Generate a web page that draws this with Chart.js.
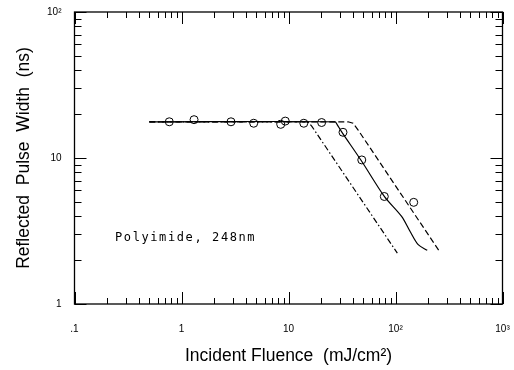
<!DOCTYPE html>
<html>
<head>
<meta charset="utf-8">
<script src="https://cdn.jsdelivr.net/npm/chart.js@4"></script>
<style>
  html, body { margin: 0; padding: 0; background: #fff; }
</style>
</head>
<body>
<canvas id="c" width="514" height="370"></canvas>
<script>
// measured pulse widths (circles)
const measFluence = [0.769, 1.31, 2.90, 4.73, 8.46, 9.33, 13.9, 20.4, 32.3, 48.4, 78.6, 148];
const measWidth   = [17.7, 18.3, 17.7, 17.3, 17.0, 17.9, 17.3, 17.5, 15.0, 9.7, 5.45, 4.97];

// model curves
const solidFluence = [0.5, 27.2, 28.4, 31.4, 48.3, 78.6, 114, 137, 163, 198];
const solidWidth   = [17.7, 17.7, 17.0, 15.1, 9.5, 5.46, 3.98, 3.14, 2.55, 2.33];
const dashFluence  = [0.5, 36.0, 40.1, 44.6, 261];
const dashWidth    = [17.7, 17.7, 17.3, 15.6, 2.26];
const dotDashFluence = [0.5, 15.2, 16.6, 104];
const dotDashWidth   = [17.7, 17.7, 16.4, 2.23];

// axis decades and their labels
const xDecades = [0.1, 1, 10, 100, 1000];
const xDecadeLabels = ['.1', '1', '10', '10²', '10³'];
const yDecades = [1, 10, 100];
const yDecadeLabels = ['1', '10', '10²'];

const noteText = 'Polyimide, 248nm';

const pts = (xs, ys) => xs.map((x, i) => ({ x: x, y: ys[i] }));

// decades plus 2..9 in between, inside the range
function logTicks(decades) {
    const out = [];
    decades.forEach((d, i) => {
        out.push({ value: d });
        if (i < decades.length - 1) {
            for (let k = 2; k <= 9; k++) out.push({ value: d * k });
        }
    });
    return out;
}

function labelFor(decades, labels) {
    return function (value) {
        const i = decades.findIndex(d => Math.abs(d - value) / d < 1e-6);
        return i >= 0 ? labels[i] : '';
    };
}

const isDecade = v => Math.abs(Math.log10(v) - Math.round(Math.log10(v))) < 1e-6;

// keep label overhang from pushing the plot box around
function noEdgePadding(s) {
    s.paddingLeft = 0; s.paddingRight = 0;
    s.paddingTop = 0; s.paddingBottom = 0;
}

// box, inward ticks on all four sides, and the note
const frameTicks = {
    id: 'frameTicks',
    afterDatasetsDraw(chart) {
        const { ctx, chartArea: a, scales: { x, y } } = chart;
        ctx.save();
        ctx.strokeStyle = '#000';
        ctx.lineWidth = 1.3;
        ctx.strokeRect(a.left, a.top, a.right - a.left, a.bottom - a.top);
        ctx.lineWidth = 1;
        ctx.beginPath();
        x.ticks.forEach(t => {
            const px = Math.round(x.getPixelForValue(t.value)) + 0.5;
            const len = isDecade(t.value) ? 12 : 6;
            ctx.moveTo(px, a.bottom); ctx.lineTo(px, a.bottom - len);
            ctx.moveTo(px, a.top); ctx.lineTo(px, a.top + len);
        });
        y.ticks.forEach(t => {
            const py = Math.round(y.getPixelForValue(t.value)) + 0.5;
            const len = isDecade(t.value) ? 12 : 7;
            ctx.moveTo(a.left, py); ctx.lineTo(a.left + len, py);
            ctx.moveTo(a.right, py); ctx.lineTo(a.right - len, py);
        });
        ctx.stroke();

        ctx.fillStyle = '#000';
        ctx.font = '12px "DejaVu Sans Mono"';
        ctx.letterSpacing = '1.6px';
        ctx.textBaseline = 'middle';
        ctx.fillText(noteText, x.getPixelForValue(0.239), y.getPixelForValue(2.83));
        ctx.restore();
    }
};

new Chart(document.getElementById('c'), {
    type: 'scatter',
    data: {
        datasets: [
            {
                data: pts(measFluence, measWidth),
                pointStyle: 'circle',
                pointRadius: 4,
                pointBorderWidth: 1,
                pointBorderColor: '#000',
                pointBackgroundColor: 'rgba(0,0,0,0)',
                showLine: false
            },
            {
                data: pts(solidFluence, solidWidth),
                showLine: true,
                borderColor: '#000',
                borderWidth: 1.2,
                pointRadius: 0,
                tension: 0.3
            },
            {
                data: pts(dashFluence, dashWidth),
                showLine: true,
                borderColor: '#000',
                borderWidth: 1.2,
                borderDash: [6, 3],
                pointRadius: 0,
                tension: 0
            },
            {
                data: pts(dotDashFluence, dotDashWidth),
                showLine: true,
                borderColor: '#000',
                borderWidth: 1.2,
                borderDash: [6, 2.5, 1.5, 2.5],
                pointRadius: 0,
                tension: 0
            }
        ]
    },
    options: {
        responsive: false,
        animation: false,
        layout: { padding: { top: 12, right: 11.5, left: 0, bottom: 0 } },
        plugins: { legend: { display: false }, tooltip: { enabled: false } },
        scales: {
            x: {
                type: 'logarithmic',
                min: 0.1,
                max: 1000,
                afterBuildTicks: s => { s.ticks = logTicks(xDecades); },
                afterFit: s => { s.height = 66; noEdgePadding(s); },
                grid: { display: false, drawTicks: false },
                border: { display: false },
                ticks: {
                    autoSkip: false,
                    maxRotation: 0,
                    padding: 19,
                    color: '#000',
                    font: { family: 'Liberation Sans', size: 10 },
                    callback: labelFor(xDecades, xDecadeLabels)
                },
                title: {
                    display: true,
                    text: 'Incident Fluence  (mJ/cm²)',
                    color: '#000',
                    font: { family: 'Liberation Sans', size: 17.5 },
                    padding: { top: 0, bottom: 3 }
                }
            },
            y: {
                type: 'logarithmic',
                min: 1,
                max: 100,
                afterBuildTicks: s => { s.ticks = logTicks(yDecades); },
                afterFit: s => { s.width = 74.5; noEdgePadding(s); },
                grid: { display: false, drawTicks: false },
                border: { display: false },
                ticks: {
                    autoSkip: false,
                    padding: 13,
                    color: '#000',
                    font: { family: 'Liberation Sans', size: 10 },
                    callback: labelFor(yDecades, yDecadeLabels)
                },
                title: {
                    display: true,
                    text: 'Reflected  Pulse  Width  (ns)',
                    color: '#000',
                    font: { family: 'Liberation Sans', size: 17.5 },
                    padding: { top: 14, bottom: 0 }
                }
            }
        }
    },
    plugins: [frameTicks]
});
</script>
</body>
</html>
